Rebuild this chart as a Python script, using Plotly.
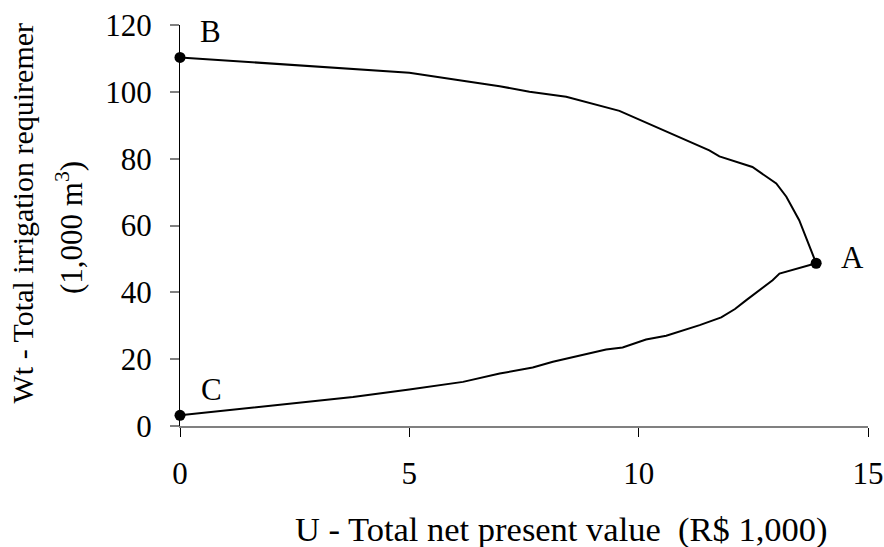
import plotly.graph_objects as go

# Upper branch: from B to A
upper_u = [0.0, 5.0, 6.31, 6.97, 7.62, 8.42, 9.58, 10.45, 11.33, 11.54, 11.76, 12.48, 13.0, 13.22, 13.5, 13.87]
upper_w = [110.3, 105.7, 103.0, 101.7, 100.0, 98.5, 94.3, 89.0, 83.7, 82.5, 80.7, 77.5, 72.6, 68.6, 61.6, 48.7]

# Lower branch: from C to A
lower_u = [0.0, 3.77, 5.0, 6.17, 6.97, 7.69, 8.13, 9.29, 9.65, 10.16, 10.6, 11.33, 11.8, 12.1, 12.34, 12.63, 12.92, 13.07, 13.65, 13.87]
lower_w = [3.2, 8.7, 10.9, 13.2, 15.7, 17.5, 19.2, 22.9, 23.5, 25.9, 27.0, 30.2, 32.5, 35.0, 37.6, 40.6, 43.6, 45.6, 47.8, 48.7]

point_names = ["B", "A", "C"]
point_u = [upper_u[0], upper_u[-1], lower_u[0]]
point_w = [upper_w[0], upper_w[-1], lower_w[0]]

x_ticks = [0, 5, 10, 15]
y_ticks = [0, 20, 40, 60, 80, 100, 120]

x_title = "U - Total net present value \u00a0(R$ 1,000)"
y_title_1 = "Wt - Total irrigation requiremer"
y_title_2 = "(1,000 m<sup>3</sup>)"

FONT = "Liberation Serif, Times New Roman, serif"

fig = go.Figure()
fig.add_trace(go.Scatter(x=upper_u, y=upper_w, mode="lines",
                         line=dict(color="black", width=2), showlegend=False, hoverinfo="skip"))
fig.add_trace(go.Scatter(x=lower_u, y=lower_w, mode="lines",
                         line=dict(color="black", width=2), showlegend=False, hoverinfo="skip"))
fig.add_trace(go.Scatter(x=point_u, y=point_w, mode="markers",
                         marker=dict(color="black", size=11), cliponaxis=False,
                         showlegend=False))

label_shift = {"B": (30, 26), "A": (36, 6), "C": (31, 26)}
for name, u, w in zip(point_names, point_u, point_w):
    dx, dy = label_shift[name]
    fig.add_annotation(x=u, y=w, xref="x", yref="y", text=name, showarrow=False,
                       xshift=dx, yshift=dy, font=dict(family=FONT, size=31, color="black"))

# plot area spans page px x 180..868, y 25..426
PW, PH = 688, 401
fig.add_annotation(xref="paper", yref="paper", x=(561 - 180) / PW, y=(426 - 529) / PH,
                   text=x_title, showarrow=False, xanchor="center", yanchor="middle",
                   borderpad=0, font=dict(family=FONT, size=34.5, color="black"))
fig.add_annotation(xref="paper", yref="paper", x=(22 - 180) / PW, y=(426 - 405) / PH,
                   text=y_title_1, showarrow=False, textangle=-90, xanchor="center",
                   yanchor="bottom", borderpad=0,
                   font=dict(family=FONT, size=30, color="black"))
fig.add_annotation(xref="paper", yref="paper", x=(69 - 180) / PW, y=(426 - 228) / PH,
                   text=y_title_2, showarrow=False, textangle=-90, xanchor="center",
                   yanchor="middle", borderpad=0,
                   font=dict(family=FONT, size=31, color="black"))

fig.update_layout(
    width=884, height=547,
    margin=dict(l=180, r=16, t=25, b=121),
    paper_bgcolor="white", plot_bgcolor="white",
    font=dict(family=FONT, size=31, color="black"),
    xaxis=dict(range=[0, 15], tickvals=x_ticks, ticktext=[str(v) for v in x_ticks],
               showgrid=False, zeroline=False, showline=True, linecolor="#808080", linewidth=2,
               ticks="outside", ticklen=9, tickwidth=1.3, tickcolor="black",
               ticklabelstandoff=10, ticklabeloverflow="allow", automargin=False,
               tickfont=dict(family=FONT, size=31)),
    yaxis=dict(range=[0, 120], tickvals=y_ticks, ticktext=[str(v) for v in y_ticks],
               showgrid=False, zeroline=False, showline=True, linecolor="black", linewidth=1.3,
               ticks="outside", ticklen=9, tickwidth=2, tickcolor="#808080",
               ticklabelstandoff=12, ticklabeloverflow="allow", automargin=False,
               tickfont=dict(family=FONT, size=31)),
)

fig.write_html(
    "out.html",
    config={"displayModeBar": False},
    post_script="document.body.style.margin='0';document.body.style.overflow='hidden';",
)
